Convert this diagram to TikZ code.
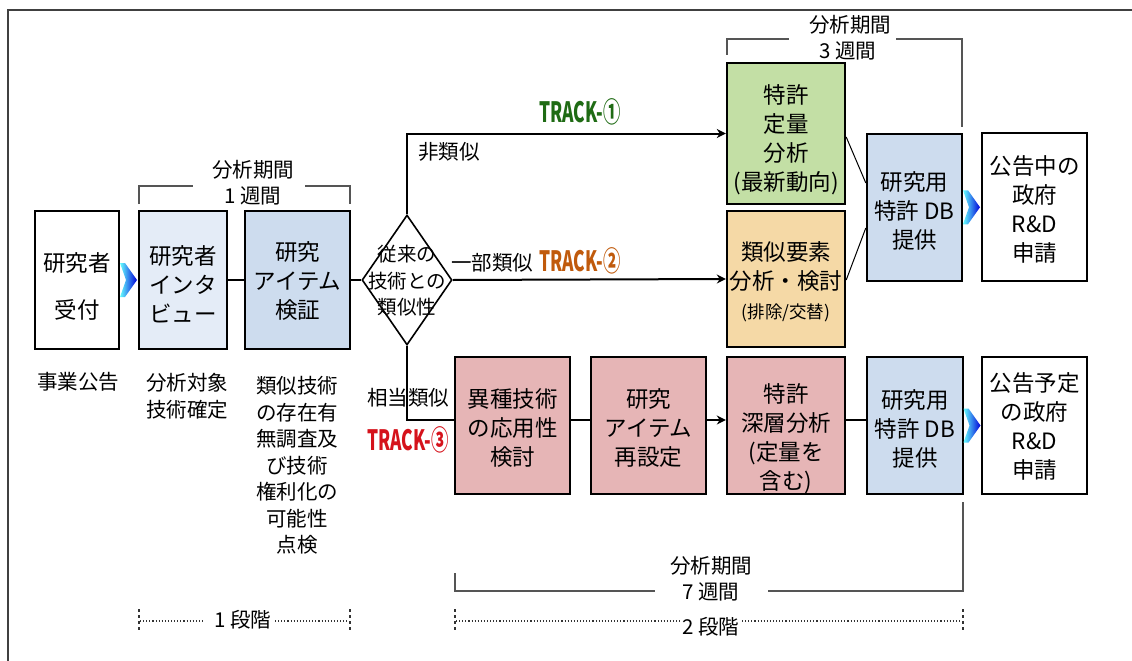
\documentclass[tikz,border=0pt]{standalone}
\usepackage{fontspec}
\setmainfont{Noto Sans CJK JP}
\newfontfamily\trackfont[FakeStretch=0.62]{Noto Sans CJK JP}
\usetikzlibrary{shapes.geometric,arrows.meta,calc}
\definecolor{cInt}{HTML}{E4ECF7}
\definecolor{cVer}{HTML}{CDDCEE}
\definecolor{cGreen}{HTML}{C3DFA5}
\definecolor{cYel}{HTML}{F5D9A6}
\definecolor{cPink}{HTML}{E6B5B6}
\definecolor{cDB}{HTML}{CDDCEE}
\definecolor{trA}{HTML}{1F6B14}
\definecolor{trB}{HTML}{C05A0C}
\definecolor{trC}{HTML}{D5121B}
\definecolor{brk}{HTML}{555555}
\tikzset{
  box/.style={draw=black, line width=2.4pt, align=center, inner sep=0pt,
    font=\fontsize{22.5}{29}\selectfont},
  txt/.style={align=center, inner sep=0pt, font=\fontsize{22.5}{29}\selectfont},
  captext/.style={align=center, inner sep=0pt, font=\fontsize{20.5}{26.5}\selectfont},
  lbl/.style={inner sep=0pt, font=\fontsize{20.5}{26}\selectfont},
  tracklbl/.style={inner sep=0pt, font=\trackfont\bfseries\fontsize{28}{28}\selectfont},
  conn/.style={line width=2.4pt},
  arr/.style={line width=2.4pt, -{Stealth[length=9pt,width=9pt]}},
  thinline/.style={line width=1pt},
  bracketline/.style={line width=1.1pt, draw=brk},
  dotline/.style={line width=1.1pt, draw=black!80, dotted},
  tickline/.style={line width=1.1pt, draw=black!80, dash pattern=on 3pt off 3pt},
  chev/.pic={\shade[left color=cyan!60, right color=blue!85!black]
     (-9,-17) -- (-4,-17) -- (8,0) -- (-4,17) -- (-9,17) -- (-3,0) -- cycle;}
}
\begin{document}
\begin{tikzpicture}[x=1pt,y=-1pt]
\useasboundingbox (0,0) rectangle (1132,661);
\draw[line width=1.2pt, draw=black!75] (8,661) -- (8,10) -- (1132,10);

% row 1 stage 1
\node[box, minimum width=84, minimum height=138] (r1) at (77,280) {};
\node[txt] (r1t) at (77,286) {研究者\\[18pt]受付};
\node[box, fill=cInt, minimum width=88, minimum height=138] (r2) at (183,280) {};
\node[txt] (r2t) at (183,284) {研究者\\インタ\\ビュー};
\node[box, fill=cVer, minimum width=105, minimum height=138] (r3) at (297.5,280) {};
\node[txt] (r3t) at (297.5,281) {研究\\アイテム\\検証};

\node[draw=black, line width=1.6pt, diamond, minimum width=90, minimum height=130, inner sep=0pt] (d) at (407,280) {};
\node[align=center, inner sep=0pt, font=\fontsize{19.5}{26.5}\selectfont] (dt) at (407,281) {従来の\\技術との\\類似性};

% upper track boxes
\node[box, fill=cGreen, minimum width=118, minimum height=141] (g) at (786,133.5) {};
\node[txt] (gt) at (786,140) {特許\\定量\\分析\\(最新動向)};
\node[box, fill=cYel, minimum width=118, minimum height=136] (yl) at (786,279) {};
\node[txt] (ylt) at (786,282) {類似要素\\分析・検討\\{\fontsize{17.5}{29}\selectfont (排除/交替)}};
\node[box, fill=cDB, minimum width=95, minimum height=147] (db1) at (914.5,207.5) {};
\node[txt] (db1t) at (914.5,211) {研究用\\特許 DB\\提供};
\node[box, minimum width=105, minimum height=148] (p1) at (1034.5,207) {};
\node[txt] (p1t) at (1034.5,209) {公告中の\\政府\\R\&D\\申請};

% lower track boxes
\node[box, fill=cPink, minimum width=115, minimum height=137] (b1) at (512.5,425.5) {};
\node[txt] (b1t) at (512.5,428.5) {異種技術\\の応用性\\検討};
\node[box, fill=cPink, minimum width=115, minimum height=137] (b2) at (648.5,425.5) {};
\node[txt] (b2t) at (648.5,428) {研究\\アイテム\\再設定};
\node[box, fill=cPink, minimum width=118, minimum height=137] (b3) at (786,425.5) {};
\node[txt] (b3t) at (786,439) {特許\\深層分析\\(定量を\\含む)};
\node[box, fill=cDB, minimum width=96, minimum height=137] (db2) at (915,425.5) {};
\node[txt] (db2t) at (915,429) {研究用\\特許 DB\\提供};
\node[box, minimum width=105, minimum height=137] (p2) at (1034.5,425.5) {};
\node[txt] (p2t) at (1034.5,426) {公告予定\\の政府\\R\&D\\申請};

% connectors
\path ($(r1.east)!0.5!(r2.west)$) pic{chev};
\path ($(db1.east)!0.5!(p1.west)$) pic{chev};
\path ($(db2.east)!0.5!(p2.west)$) pic{chev};
\draw[conn] (r2.east) -- (r3.west);
\draw[conn] (r3.east) -- (d.west);
\draw[arr, line width=2pt] (d.north) |- (g.west);
\draw[arr, line width=2pt] (d.east) -- (yl.west);
\draw[conn, line width=2pt] (d.south) |- ([yshift=5.5pt]b1.west);
\draw[conn] ([yshift=5.5pt]b1.east) -- ([yshift=5.5pt]b2.west);
\draw[arr] ([yshift=5.5pt]b2.east) -- ([yshift=5.5pt]b3.west);
\draw[conn] ([yshift=5.5pt]b3.east) -- ([yshift=5.5pt]db2.west);
\draw[thinline] ([yshift=-3.5pt]g.east) -- ([yshift=24.5pt]db1.west);
\draw[thinline] ([yshift=-1pt]yl.east) -- ([yshift=-20.5pt]db1.west);

% labels on tracks
\node[tracklbl, text=trA] (t1) at (580,112) {TRACK-①};
\node[lbl] (l1) at (449,152) {非類似};
\node[lbl] (l2) at (492,263) {一部類似};
\node[tracklbl, text=trB] (t2) at (580,261) {TRACK-②};
\node[lbl] (l3) at (408,398) {相当類似};
\node[tracklbl, text=trC] (t3) at (408,440) {TRACK-③};

% captions
\node[captext] (c1) at (78,382) {事業公告};
\node[captext] (c2) at (187,396) {分析対象\\技術確定};
\node[captext] (c3) at (297,465.5) {類似技術\\の存在有\\無調査及\\び技術\\権利化の\\可能性\\点検};

% brackets
\draw[bracketline] (139,204) -- (139,186) -- (193,186);
\draw[bracketline] (305,186) -- (350,186) -- (350,204);
\node[captext] (w1a) at (253,170) {分析期間};
\node[captext] (w1b) at (253,196) {1 週間};

\draw[bracketline] (727,55) -- (727,39) -- (789,39);
\draw[bracketline] (896,39) -- (962,39) -- (962,127);
\node[captext] (w3a) at (850,25) {分析期間};
\node[captext] (w3b) at (848,51) {3 週間};

\draw[bracketline] (455,573) -- (455,591) -- (655,591);
\draw[bracketline] (768,591) -- (963,591) -- (963,502);
\node[captext] (w7a) at (711,566) {分析期間};
\node[captext] (w7b) at (711,592) {7 週間};

% stages
\draw[dotline] (140,621) -- (205,621);
\draw[dotline] (275,621) -- (349,621);
\draw[tickline] (139,609) -- (139,630);
\draw[tickline] (350,609) -- (350,630);
\node[captext] (s1) at (243,620) {1 段階};
\draw[dotline] (456,621) -- (682,621);
\draw[dotline] (742,621) -- (962,621);
\draw[tickline] (455,609) -- (455,630);
\draw[tickline] (963,609) -- (963,630);
\node[captext] (s2) at (711,627) {2 段階};
\end{tikzpicture}
\end{document}
